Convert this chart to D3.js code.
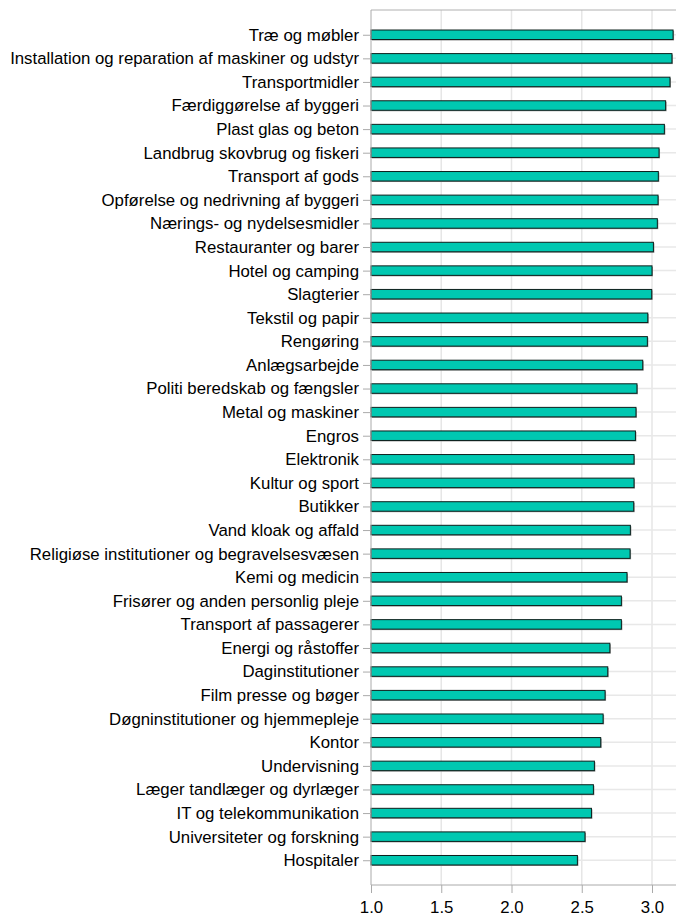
<!DOCTYPE html>
<html>
<head>
<meta charset="utf-8">
<script src="https://cdn.jsdelivr.net/npm/d3@7"></script>
<style>
  html, body { margin: 0; padding: 0; background: #fff; }
  svg { display: block; }
  text { font-family: "Liberation Sans", Arial, sans-serif; fill: #000; }
</style>
</head>
<body>
<svg id="chart" width="676" height="917"></svg>
<script>
const categories = [
  "Træ og møbler",
  "Installation og reparation af maskiner og udstyr",
  "Transportmidler",
  "Færdiggørelse af byggeri",
  "Plast glas og beton",
  "Landbrug skovbrug og fiskeri",
  "Transport af gods",
  "Opførelse og nedrivning af byggeri",
  "Nærings- og nydelsesmidler",
  "Restauranter og barer",
  "Hotel og camping",
  "Slagterier",
  "Tekstil og papir",
  "Rengøring",
  "Anlægsarbejde",
  "Politi beredskab og fængsler",
  "Metal og maskiner",
  "Engros",
  "Elektronik",
  "Kultur og sport",
  "Butikker",
  "Vand kloak og affald",
  "Religiøse institutioner og begravelsesvæsen",
  "Kemi og medicin",
  "Frisører og anden personlig pleje",
  "Transport af passagerer",
  "Energi og råstoffer",
  "Daginstitutioner",
  "Film presse og bøger",
  "Døgninstitutioner og hjemmepleje",
  "Kontor",
  "Undervisning",
  "Læger tandlæger og dyrlæger",
  "IT og telekommunikation",
  "Universiteter og forskning",
  "Hospitaler"
];
const values = [
  3.150, 3.142, 3.128, 3.097, 3.088, 3.050, 3.045, 3.043, 3.038,
  3.010, 3.000, 2.998, 2.970, 2.967, 2.934, 2.893, 2.886, 2.882,
  2.872, 2.872, 2.870, 2.846, 2.844, 2.822, 2.782, 2.782, 2.700,
  2.685, 2.666, 2.652, 2.635, 2.590, 2.583, 2.569, 2.523, 2.469
];
const xTicks = [1.0, 1.5, 2.0, 2.5, 3.0];

(function () {
const svg = d3.select("#chart");
const pLeft = 371, pRight = 676, pTop = 10, pBottom = 885;
const fs = 16.8;

const x = d3.scaleLinear().domain([1, 3]).range([pLeft, 652]);
const y = d3.scalePoint().domain(categories).range([pTop, pBottom]).padding(1.05);

// vertical gridlines
svg.append("g").selectAll("line").data(xTicks.slice(1)).join("line")
  .attr("x1", d => x(d)).attr("x2", d => x(d))
  .attr("y1", pTop).attr("y2", pBottom)
  .attr("stroke", "#e6e6e6").attr("stroke-width", 1.5);

// horizontal gridlines
svg.append("g").selectAll("line").data(categories).join("line")
  .attr("x1", pLeft).attr("x2", pRight)
  .attr("y1", d => y(d)).attr("y2", d => y(d))
  .attr("stroke", "#e8e8e8").attr("stroke-width", 1.5);

// top border
svg.append("line").attr("x1", pLeft).attr("x2", pRight)
  .attr("y1", pTop).attr("y2", pTop).attr("stroke", "#b0b0b0").attr("stroke-width", 1);

const barH = 9.5;
// shadows
svg.append("g").selectAll("rect").data(values).join("rect")
  .attr("x", pLeft + 1)
  .attr("y", (d, i) => y(categories[i]) - barH / 2 + 1)
  .attr("width", d => x(d) - pLeft)
  .attr("height", barH)
  .attr("fill", "#9a9a9a");
// bars
svg.append("g").selectAll("rect").data(values).join("rect")
  .attr("x", pLeft)
  .attr("y", (d, i) => y(categories[i]) - barH / 2)
  .attr("width", d => x(d) - pLeft)
  .attr("height", barH)
  .attr("fill", "#00c8b1")
  .attr("stroke", "#0d1f1c")
  .attr("stroke-width", 1);

// left axis
const yAxis = d3.axisLeft(y).tickSize(8).tickPadding(4);
const gy = svg.append("g").attr("transform", `translate(${pLeft},0)`).call(yAxis);
gy.select(".domain").attr("stroke", "#aaaaaa").attr("d", `M0,${pTop}V${pBottom}`);
gy.selectAll(".tick line").attr("stroke", "#aaaaaa");
gy.selectAll(".tick text").attr("font-size", fs).attr("fill", "#000")
  .style("font-family", "'Liberation Sans', Arial, sans-serif");

// bottom axis
const xAxis = d3.axisBottom(x).tickValues(xTicks).tickFormat(d3.format(".1f")).tickSize(8).tickPadding(8);
const gx = svg.append("g").attr("transform", `translate(0,${pBottom})`).call(xAxis);
gx.select(".domain").attr("stroke", "#aaaaaa").attr("d", `M${pLeft},0H${pRight}`);
gx.selectAll(".tick line").attr("stroke", "#aaaaaa");
gx.selectAll(".tick text").attr("font-size", fs).attr("fill", "#000")
  .style("font-family", "'Liberation Sans', Arial, sans-serif");
})();
</script>
</body>
</html>
